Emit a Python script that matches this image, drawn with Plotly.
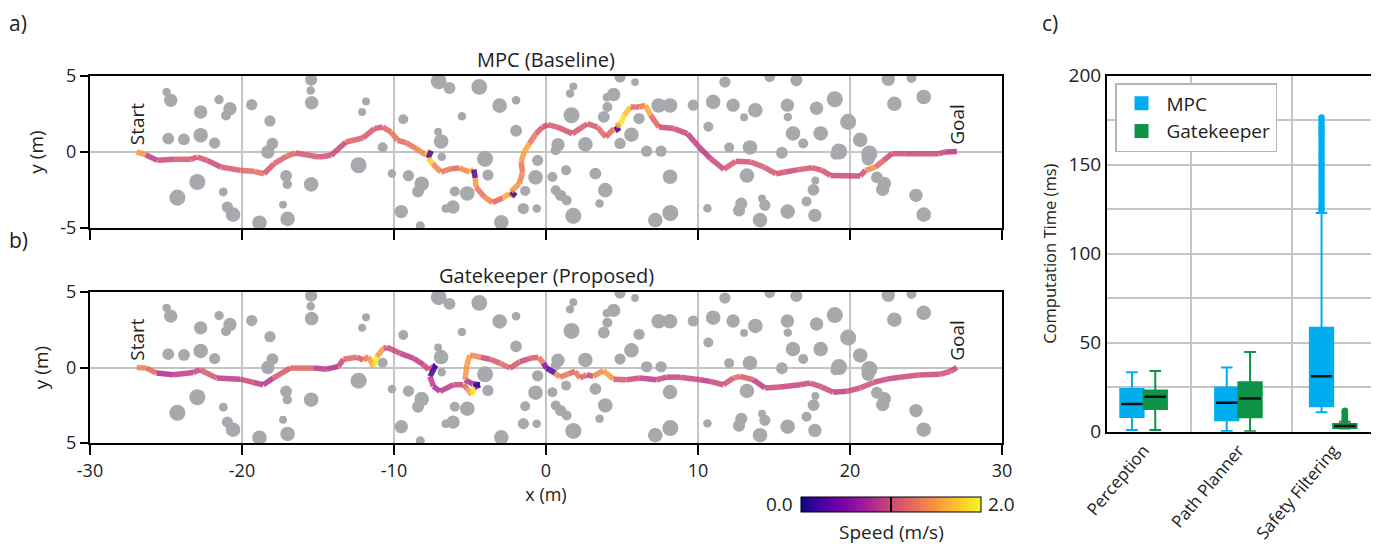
import plotly.graph_objects as go
from plotly.colors import sample_colorscale

# the page body adds an 8 px margin; the figure fills the rest of the 1379x544 window
OFF = 8
W, H = 1379 - OFF, 544 - OFF

# ---------------- data ----------------
# obstacles (m): centre x, centre y, radius
obs_x = [-24.96, -24.69, -22.72, -21.51, -20.79, -21.05, -19.36, -18.16, -24.85, -23.82, -22.72, -21.80,
         -18.0, -18.30, -22.94, -24.25, -21.23, -20.96, -20.59, -18.85, -17.10, -17.02, -15.45, -17.30,
         -17.0, -15.45, -15.48, -15.42,
         -11.84, -12.1, -9.39, -7.06, -6.35, -4.39, -3.05, -1.97, -5.53, -1.97, -7.1, -6.9, -10.75,
         -12.33, -10.14, -9.05, -8.18, -8.42, -6.86, -4.01, -3.82, -6.0, -5.18, -6.6, -6.12, -9.52,
         -8.27, -2.94, -1.37, -1.49, -0.61, -0.69, -0.55,
         4.87, 5.86, 1.8, 1.58, 4.45, 4.0, 1.68, 4.04, 3.8, 6.12, 7.41, 8.16, 9.69, 5.62, 0.79, 0.64,
         2.59, 4.87, 6.62, 7.57, 0.42, 1.32, 3.25, 0.64, 0.96, 1.36, 3.9, 3.52, 1.8, 8.16, 7.19, 8.18,
         10.62, 11.77, 11.0, 12.31, 13.03, 13.77, 10.68, 12.05, 13.42, 13.22, 12.85, 12.7, 14.21, 14.4,
         14.08, 14.72,
         16.47, 15.88, 15.91, 17.8, 19.0, 19.88, 16.25, 18.07, 16.92, 15.52, 19.28, 19.04, 20.67, 21.27,
         21.2, 22.52, 24.04, 22.92, 24.85, 17.72, 17.6, 17.14, 15.9, 17.69, 21.77, 22.26, 22.15, 24.34,
         24.85]
obs_y = [3.95, 3.40, 2.63, 3.44, 2.85, 2.40, 3.11, 2.04, 0.88, 0.83, 1.10, 0.59,
         0.55, 0.0, -1.97, -3.0, -2.63, -3.62, -4.12, -4.65, -1.58, -2.13, -2.13, -3.46,
         -4.40, 4.75, 4.05, 3.24,
         3.33, 2.63, 2.15, 4.65, 4.21, 4.28, 3.05, 3.4, 2.35, 1.40, 1.33, 0.69, 0.31,
         -0.87, -1.42, -1.56, -2.09, -2.60, -0.32, -0.45, -1.52, -2.60, -2.73, -3.72, -3.62, -3.92,
         -4.86, -4.62, -2.56, -3.72, -3.72, -1.67, -0.55,
         4.93, 4.6, 4.32, 3.85, 3.78, 3.6, 2.42, 2.96, 2.31, 2.2, 3.06, 3.06, 3.08, 1.14, 0.48, 0.11,
         0.5, 0.56, 0.05, 0.05, -1.64, -1.2, -1.42, -2.52, -2.85, -3.18, -2.51, -3.39, -4.2, -1.63, -4.48, -4.01,
         -3.7, 4.6, 3.3, 3.08, 2.29, 2.75, 1.66, 0.29, 0.3, -1.55, -3.4, -3.85, -3.06, -3.5,
         -4.48, 4.95,
         4.73, 3.08, 2.31, 2.88, 3.47, 1.98, 1.22, 1.22, 0.56, -0.05, 0.03, -0.18, 0.8, -0.1,
         -0.45, 4.78, 4.87, 3.17, 3.62, -1.88, -2.49, -3.26, -3.92, -4.17, -1.67, -2.07, -2.46, -2.85,
         -4.12]
obs_r = [0.28, 0.44, 0.44, 0.31, 0.44, 0.33, 0.37, 0.37, 0.39, 0.39, 0.48, 0.37,
         0.39, 0.44, 0.53, 0.53, 0.29, 0.37, 0.48, 0.48, 0.39, 0.31, 0.48, 0.26,
         0.48, 0.40, 0.28, 0.45,
         0.26, 0.26, 0.33, 0.52, 0.39, 0.52, 0.48, 0.28, 0.28, 0.39, 0.26, 0.48, 0.33,
         0.53, 0.28, 0.37, 0.48, 0.39, 0.28, 0.53, 0.37, 0.33, 0.48, 0.28, 0.44, 0.44,
         0.30, 0.48, 0.33, 0.37, 0.28, 0.48, 0.37,
         0.37, 0.26, 0.26, 0.28, 0.44, 0.28, 0.53, 0.33, 0.39, 0.37, 0.48, 0.48, 0.37, 0.48, 0.44, 0.33,
         0.48, 0.37, 0.37, 0.37, 0.33, 0.33, 0.39, 0.33, 0.37, 0.33, 0.48, 0.28, 0.53, 0.48, 0.48, 0.53,
         0.28, 0.37, 0.48, 0.44, 0.26, 0.48, 0.33, 0.33, 0.48, 0.48, 0.40, 0.40, 0.26, 0.37,
         0.48, 0.35,
         0.40, 0.44, 0.28, 0.44, 0.53, 0.53, 0.48, 0.48, 0.33, 0.39, 0.53, 0.33, 0.48, 0.53,
         0.44, 0.44, 0.33, 0.48, 0.48, 0.26, 0.39, 0.33, 0.48, 0.44, 0.39, 0.44, 0.44, 0.44,
         0.48]

# MPC (Baseline) trajectory
mpc_x = [-26.93, -26.34, -25.57, -24.47, -23.38, -22.94, -22.28, -21.4, -20.09, -19.21, -18.55, -17.89,
         -17.02, -16.47, -14.93, -14.14, -13.16, -12.06, -11.29, -10.75, -10.2, -9.76, -9.21, -8.55,
         -7.9, -7.55, -7.75, -7.46, -6.91, -6.25, -5.7, -5.04, -4.75, -4.65, -4.61, -4.06, -3.51,
         -2.85, -2.41, -2.0, -2.3, -1.75, -1.54, -1.64, -1.43, -1.1, -0.66, -0.22, 0.13, 0.75, 1.73,
         2.72, 3.38, 3.93, 4.47, 4.8, 4.6, 4.91, 5.13, 5.57, 6.12, 6.54, 6.89, 7.43, 8.42, 9.3, 10.07,
         10.83, 11.71, 12.48, 13.46, 14.34, 15.13, 15.75, 16.62, 17.5, 18.16, 18.71, 20.68, 21.01,
         21.67, 22.21, 22.76, 23.64, 25.83, 26.27, 27.03]
mpc_y = [0.0, -0.18, -0.55, -0.48, -0.48, -0.33, -0.55, -0.99, -1.21, -1.27, -1.43, -0.77,
         -0.26, -0.07, -0.33, -0.22, 0.66, 0.92, 1.54, 1.64, 1.32, 0.77, 0.61, 0.22,
         -0.2, 0.08, -0.4, -0.77, -1.32, -1.1, -1.05, -1.32, -1.15, -1.71, -2.3, -2.96, -3.33,
         -3.03, -2.74, -2.9, -2.6, -2.08, -1.32, -0.66, 0.0, 0.55, 1.21, 1.64, 1.8, 1.64, 1.21,
         1.86, 1.64, 0.99, 1.54, 1.36, 1.7, 1.86, 2.41, 2.96, 2.96, 3.07, 2.41, 1.64, 1.54, 1.21, 0.33,
         -0.44, -1.14, -0.61, -0.66, -0.99, -1.43, -1.32, -1.16, -1.03, -1.21, -1.54, -1.58, -1.21,
         -0.99, -0.55, -0.11, -0.11, -0.11, 0.0, 0.04]
mpc_v = [1.5, 0.9, 1.0, 1.1, 1.05, 1.1, 1.0, 1.1, 1.2, 1.25, 1.1, 1.15,
         1.2, 1.1, 1.05, 1.0, 1.15, 1.1, 1.1, 1.2, 1.3, 1.2, 1.3, 1.4,
         1.8, 0.3, 1.8, 1.4, 1.3, 1.2, 1.4, 1.7, 0.3, 1.5, 1.3, 1.4, 1.2,
         1.6, 1.5, 0.2, 1.5, 1.4, 1.3, 1.5, 1.6, 1.3, 1.1, 1.0, 1.1, 1.05, 1.1,
         1.1, 1.2, 1.2, 1.6, 0.2, 1.6, 1.9, 1.7, 1.2, 1.3, 1.6, 1.2, 1.0, 1.0, 0.95, 0.9,
         1.0, 1.1, 1.05, 1.1, 1.1, 1.05, 1.0, 1.1, 1.1, 1.05, 1.0, 1.05, 1.4,
         1.2, 1.0, 1.05, 1.0, 1.0, 0.9, 0.1]

# Gatekeeper (Proposed) trajectory
gk_x = [-26.93, -26.28, -25.62, -24.53, -23.21, -22.76, -21.67, -20.13, -19.25, -18.6, -17.94, -16.84,
        -15.31, -14.43, -13.66, -13.33, -12.45, -12.01, -11.68, -11.35, -11.13, -10.69, -10.47, -9.59,
        -8.71, -8.06, -7.72, -7.41, -7.25, -7.63, -7.41, -6.97, -6.1, -5.44, -5.2, -4.89, -4.7, -4.34,
        -4.8, -5.33, -5.2, -5.0, -4.3, -3.68, -3.03, -2.37, -1.71, -1.05, -0.5, -0.18, 0.04, 0.59,
        0.92, 1.47, 1.91, 2.24, 2.68, 3.11, 3.77, 4.43, 5.31, 6.18, 7.28, 7.94, 8.82, 10.13, 10.79,
        11.67, 12.32, 12.76, 13.64, 14.41, 15.39, 16.71, 17.37, 18.14, 18.9, 19.78, 20.66, 21.54,
        22.41, 23.29, 24.5, 25.9, 26.6, 27.03]
gk_y = [0.0, -0.04, -0.37, -0.48, -0.33, -0.15, -0.70, -0.77, -0.99, -1.14, -0.70, -0.04,
        -0.04, -0.11, 0.07, 0.55, 0.68, 0.50, 0.72, 0.07, 0.72, 1.27, 1.34, 0.94,
        0.61, 0.18, -0.15, 0.07, 0.15, -0.59, -1.25, -1.58, -1.14, -1.14, -1.4, -1.8, -1.3, -1.14,
        -1.1, -0.81, 0.2, 0.83, 0.68, 0.55, 0.29, -0.04, 0.39, 0.61, 0.68, 0.29, -0.04, -0.37,
        -0.64, -0.42, -0.26, -0.7, -0.48, -0.59, -0.2, -0.77, -0.81, -0.7, -0.81, -0.64, -0.64, -0.81, -0.92,
        -1.14, -0.7, -0.59, -0.81, -1.36, -1.29, -1.14, -1.03, -1.29, -1.64, -1.58, -1.36, -0.99,
        -0.77, -0.64, -0.5, -0.45, -0.25, 0.0]
gk_v = [1.4, 1.2, 0.8, 0.9, 1.0, 1.1, 0.9, 1.0, 0.9, 0.85, 1.1, 1.2,
        0.9, 0.85, 1.0, 1.2, 1.1, 1.3, 1.5, 1.9, 1.5, 1.1, 1.0, 0.9,
        0.9, 1.0, 1.1, 0.4, 0.2, 0.9, 0.8, 0.9, 1.0, 1.2, 1.5, 1.9, 0.5, 0.2,
        0.8, 1.5, 1.5, 1.4, 1.0, 1.1, 1.2, 1.1, 1.0, 1.1, 1.3, 0.6, 0.3, 1.4,
        1.3, 1.2, 1.3, 1.2, 1.0, 1.4, 1.5, 1.1, 1.0, 0.9, 1.0, 0.95, 1.0, 0.9, 1.0,
        1.05, 1.2, 1.1, 0.9, 1.0, 0.95, 1.0, 1.05, 1.0, 0.9, 1.0, 1.05, 1.0,
        0.95, 1.0, 1.0, 1.05, 1.0, 0.1]

x_ticks = [-30, -20, -10, 0, 10, 20, 30]

# Computation time box statistics (ms)
categories = ["Perception", "Path Planner", "Safety Filtering"]
mpc_low = [1.0, 0.4, 10.9]
mpc_q1 = [8.3, 6.4, 14.3]
mpc_med = [15.6, 16.3, 31.1]
mpc_q3 = [24.0, 24.9, 58.4]
mpc_up = [33.4, 36.0, 122.9]
gk_low = [1.0, 0.3, 1.8]
gk_q1 = [12.7, 8.1, 2.1]
gk_med = [19.7, 18.6, 3.2]
gk_q3 = [23.2, 27.8, 4.3]
gk_up = [34.1, 44.8, 5.6]
mpc_outliers = [124.0, 125.5, 127, 129, 131, 133, 135, 137, 139, 141, 143, 145, 147, 149, 151, 153,
                155, 157, 159, 161, 163, 165, 166.5, 168, 169.5, 171, 173, 175, 176.5]
gk_outliers = [5.9, 6.6, 7.3, 8.0, 8.8, 9.6, 10.4, 11.2, 11.8]

# ---------------- figure ----------------
FONT = "Open Sans"
C_MPC = "#00AEEF"
C_GK = "#0E9347"
OBS_C = "#a7a9ac"
GRID = "#c4c4c4"
TXT = "#222222"


def pxx(p):
    return (p - OFF) / W


def pxy(p):
    return 1 - (p - OFF) / H


def f(size):
    return dict(size=size, family=FONT, color=TXT)


fig = go.Figure()


def add_traj(xs, ys, vs, xa, ya):
    cols = sample_colorscale("Plasma", [min(max(v / 2.0, 0), 1) for v in vs])
    for i in range(len(xs) - 1):
        fig.add_trace(go.Scatter(x=[xs[i], xs[i + 1]], y=[ys[i], ys[i + 1]], mode="lines",
                                 line=dict(color=cols[i], width=5.5), opacity=0.85,
                                 xaxis=xa, yaxis=ya, showlegend=False, hoverinfo="skip"))


add_traj(mpc_x, mpc_y, mpc_v, "x", "y")
add_traj(gk_x, gk_y, gk_v, "x2", "y2")

# colour bar carrier
fig.add_trace(go.Scatter(x=[0], y=[-20], mode="markers", xaxis="x2", yaxis="y2", showlegend=False,
                         hoverinfo="skip",
                         marker=dict(color=[0], size=1, colorscale="Plasma", cmin=0, cmax=2, showscale=True,
                                     colorbar=dict(orientation="h", x=pxx(891), xanchor="center",
                                                   y=pxy(528), yanchor="bottom", len=180, lenmode="pixels",
                                                   thickness=15, thicknessmode="pixels", xpad=0, ypad=0,
                                                   outlinewidth=1, outlinecolor="black",
                                                   tickmode="array", tickvals=[1], ticktext=[""],
                                                   ticks="inside", ticklen=15, tickcolor="black",
                                                   tickwidth=1.5, tickfont=f(10)))))

# boxes
off = 0.123
pos = [1, 2, 3]
fig.add_trace(go.Box(name="MPC", x=[p - off for p in pos], q1=mpc_q1, median=mpc_med, q3=mpc_q3,
                     lowerfence=mpc_low, upperfence=mpc_up, width=2 * off, whiskerwidth=0.5,
                     fillcolor=C_MPC, line=dict(color=C_MPC, width=2), boxpoints=False,
                     xaxis="x3", yaxis="y3", hoverinfo="skip"))
fig.add_trace(go.Box(name="Gatekeeper", x=[p + off for p in pos], q1=gk_q1, median=gk_med, q3=gk_q3,
                     lowerfence=gk_low, upperfence=gk_up, width=2 * off, whiskerwidth=0.5,
                     fillcolor=C_GK, line=dict(color=C_GK, width=2), boxpoints=False,
                     xaxis="x3", yaxis="y3", hoverinfo="skip"))
# outliers
fig.add_trace(go.Scatter(x=[3 - off] * len(mpc_outliers), y=mpc_outliers, mode="markers",
                         marker=dict(color=C_MPC, size=6.5), xaxis="x3", yaxis="y3", showlegend=False))
fig.add_trace(go.Scatter(x=[3 + off] * len(gk_outliers), y=gk_outliers, mode="markers",
                         marker=dict(color=C_GK, size=6.5), xaxis="x3", yaxis="y3", showlegend=False))
# black medians
mx, my = [], []
for p, m in zip(pos, mpc_med):
    mx += [p - 2 * off + 0.01, p - 0.01, None]
    my += [m, m, None]
for p, m in zip(pos, gk_med):
    mx += [p + 0.01, p + 2 * off - 0.01, None]
    my += [m, m, None]
fig.add_trace(go.Scatter(x=mx, y=my, mode="lines", line=dict(color="#111", width=2.5),
                         xaxis="x3", yaxis="y3", showlegend=False, hoverinfo="skip"))

# obstacles as data-space circles
shapes = []
for xr, yr in (("x", "y"), ("x2", "y2")):
    for cx, cy, r in zip(obs_x, obs_y, obs_r):
        shapes.append(dict(type="circle", xref=xr, yref=yr, x0=cx - r, x1=cx + r, y0=cy - r, y1=cy + r,
                           fillcolor=OBS_C, line=dict(width=0), layer="between"))
# category separators in panel c
for gx in (1.5, 2.565):
    shapes.append(dict(type="line", xref="x3", yref="paper", x0=gx, x1=gx, y0=pxy(431.7), y1=pxy(75.7),
                       line=dict(color=GRID, width=2), layer="below"))

common_x = dict(range=[-30, 30], tickmode="array", tickvals=x_ticks, showgrid=True, gridcolor=GRID,
                gridwidth=1.5, showline=True, linecolor="black", linewidth=2, mirror=True, ticks="outside",
                ticklen=10, tickwidth=2, tickcolor="black", zeroline=False, tickfont=f(18))
common_y = dict(range=[-5, 5], tickmode="array", tickvals=[-5, 0, 5], showgrid=True, gridcolor=GRID,
                gridwidth=1.5, showline=True, linecolor="black", linewidth=2, mirror=True, ticks="outside",
                ticklen=8, tickwidth=2, tickcolor="black", zeroline=False, tickfont=f(18),
                title=dict(text="y (m)", font=f(19), standoff=12))

fig.update_layout(
    width=W, height=H, margin=dict(l=0, r=0, t=0, b=0, autoexpand=False),
    paper_bgcolor="white", plot_bgcolor="white",
    font=f(18),
    xaxis=dict(common_x, domain=[pxx(90), pxx(1002)], anchor="y", ticktext=[""] * 7),
    yaxis=dict(common_y, domain=[pxy(228), pxy(76)], anchor="x", ticktext=["-5", "0", "5"]),
    xaxis2=dict(common_x, domain=[pxx(90), pxx(1002)], anchor="y2", ticktext=[str(v) for v in x_ticks],
                title=dict(text="x (m)", font=f(18), standoff=2)),
    yaxis2=dict(common_y, domain=[pxy(443), pxy(292)], anchor="x2", ticktext=["5", "0", "5"]),
    xaxis3=dict(domain=[pxx(1107), pxx(1377)], anchor="y3", range=[0.614, 3.462], tickmode="array",
                tickvals=pos, ticktext=categories, tickangle=-50, showgrid=False, showline=True,
                linecolor="black", linewidth=2, mirror=True, ticks="", zeroline=False, tickfont=f(17)),
    yaxis3=dict(domain=[pxy(431.7), pxy(75.7)], anchor="x3", range=[0, 200], tickmode="array",
                tickvals=[0, 25, 50, 75, 100, 125, 150, 175, 200],
                ticktext=["0", "", "50", "", "100", "", "150", "", "200"],
                showgrid=True, gridcolor=GRID, gridwidth=2, showline=True, linecolor="black", linewidth=2,
                mirror=True, ticks="", zeroline=False, tickfont=f(19),
                title=dict(text="Computation Time (ms)", font=f(16.5), standoff=8)),
    showlegend=True,
    legend=dict(x=pxx(1115), y=pxy(83), xanchor="left", yanchor="top", bgcolor="white",
                bordercolor="#b5b5b5", borderwidth=1.5, font=f(19), itemwidth=40),
    shapes=shapes,
)

ann = []
for txt, x, y in (("a)", 18, 23), ("b)", 18, 240), ("c)", 1050, 23)):
    ann.append(dict(text=txt, x=pxx(x), y=pxy(y), xref="paper", yref="paper", showarrow=False,
                    xanchor="center", yanchor="middle", font=f(21)))
for txt, y in (("MPC (Baseline)", 60), ("Gatekeeper (Proposed)", 275)):
    ann.append(dict(text=txt, x=pxx(546), y=pxy(y), xref="paper", yref="paper", showarrow=False,
                    xanchor="center", yanchor="middle", font=f(20)))
for xr, yr, sx, gx, gy in (("x", "y", mpc_x[0], mpc_x[-1], mpc_y[-1]),
                           ("x2", "y2", gk_x[0], gk_x[-1], gk_y[-1])):
    ann.append(dict(text="Start", x=sx, y=0, xref=xr, yref=yr, showarrow=False, textangle=-90,
                    xanchor="center", yanchor="bottom", yshift=5, font=f(19)))
    ann.append(dict(text="Goal", x=gx, y=gy, xref=xr, yref=yr, showarrow=False, textangle=-90,
                    xanchor="center", yanchor="bottom", yshift=5, font=f(19)))
ann.append(dict(text="0.0", x=pxx(795), y=pxy(504), xref="paper", yref="paper", showarrow=False,
                xanchor="right", yanchor="middle", font=f(19)))
ann.append(dict(text="2.0", x=pxx(986), y=pxy(504), xref="paper", yref="paper", showarrow=False,
                xanchor="left", yanchor="middle", font=f(19)))
ann.append(dict(text="Speed (m/s)", x=pxx(891), y=pxy(532), xref="paper", yref="paper", showarrow=False,
                xanchor="center", yanchor="middle", font=f(19)))
fig.update_layout(annotations=ann)

fig.write_html("out.html")
